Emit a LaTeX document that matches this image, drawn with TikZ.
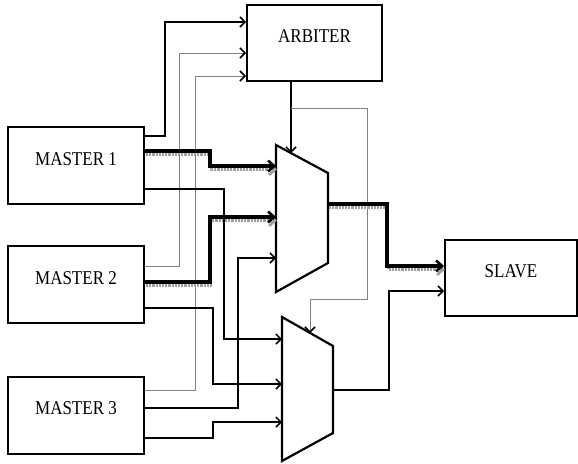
\documentclass[tikz,border=0pt]{standalone}
\usepackage{fontspec}
\setmainfont{Liberation Serif}
\usetikzlibrary{arrows.meta}

\tikzset{
  unit/.style={draw,line width=2pt,text height=12pt,text depth=13pt,
    font=\fontsize{17}{19}\selectfont},
  sig/.style={line width=1.9pt,-{Straight Barb[length=5pt,width=10pt,line width=1.5pt]}},
  ctl/.style={gray,line width=0.9pt,-{Straight Barb[length=5pt,width=10pt,line width=1.5pt,color=black]}},
  bus/.style={line width=3.6pt,-{Straight Barb[length=6pt,width=11pt,line width=2.6pt]},
    preaction={draw=gray!75,densely dotted,line width=2.2pt,
      transform canvas={shift={(1pt,-3.5pt)}}}},
  muxbox/.style={draw,line width=2.2pt,line join=miter}
}
\newcommand{\tall}[1]{\scalebox{1}[1.15]{#1}}

\begin{document}
\begin{tikzpicture}[x=1pt,y=-1pt]
\path[use as bounding box] (0,0) rectangle (578,463);
% units
\node[unit,minimum width=136pt,minimum height=77pt] (m1) at (76,165.5) {\tall{MASTER 1}};
\node[unit,minimum width=136pt,minimum height=77pt] (m2) at (76,284.5) {\tall{MASTER 2}};
\node[unit,minimum width=136pt,minimum height=77pt] (m3) at (76,415) {\tall{MASTER 3}};
\node[unit,minimum width=135pt,minimum height=76pt] (arb) at (314.5,43) {\tall{ARBITER}};
\node[unit,minimum width=132pt,minimum height=76pt] (slv) at (511,278) {\tall{SLAVE}};
% multiplexers
\coordinate (mux1) at (276,145);
\coordinate (mux2) at (282,317);
\draw[muxbox] (276,145) -- (328,173) -- (328,263) -- (276,292) -- cycle;
\draw[muxbox] (282,317) -- (333,346) -- (333,433) -- (282,461) -- cycle;
\coordinate (mux1out) at (328,204);
\coordinate (mux2out) at (333,390);
\coordinate (sel1) at (291,153);
\coordinate (sel2) at (310,333);
% requests to arbiter
\draw[sig] (m1.east |- 0,136) -| (165,22) -- (arb.west |- 0,22);
\draw[ctl] (m2.east |- 0,266) -| (179,53) -- (arb.west |- 0,53);
\draw[ctl] (m3.east |- 0,390) -| (195,76) -- (arb.west |- 0,76);
% select lines
\draw[sig] (arb.south -| sel1) -- (sel1);
\draw[ctl] (sel1 |- 0,108) -| (367,299) -| (sel2);
% master to mux1
\draw[bus] (m1.east |- 0,151) -| (210,166) -- (mux1 |- 0,166);
\draw[bus] (m2.east |- 0,282) -| (210,217) -- (mux1 |- 0,217);
\draw[sig] (m3.east |- 0,408) -| (238,258) -- (mux1 |- 0,258);
% master to mux2
\draw[sig] (m1.east |- 0,189) -| (224,339) -- (mux2 |- 0,339);
\draw[sig] (m2.east |- 0,308) -| (213,384) -- (mux2 |- 0,384);
\draw[sig] (m3.east |- 0,438) -| (213,422) -- (mux2 |- 0,422);
% mux to slave
\draw[bus] (mux1out) -| (387,266) -- (slv.west |- 0,266);
\draw[sig] (mux2out) -| (389,291) -- (slv.west |- 0,291);
\end{tikzpicture}
\end{document}
